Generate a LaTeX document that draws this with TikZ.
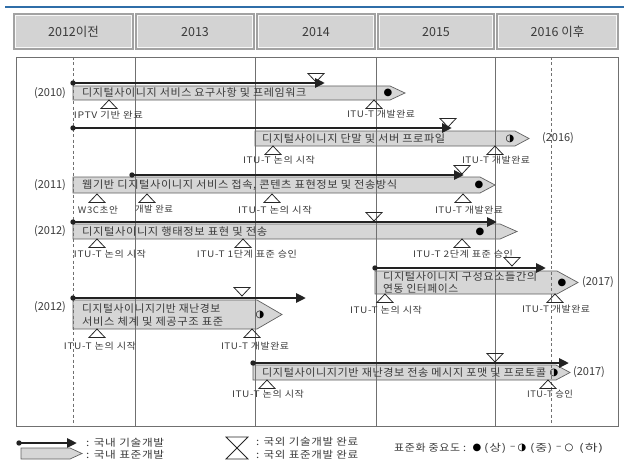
\documentclass[tikz,border=0pt]{standalone}
\usepackage{graphicx}
\usepackage{fontspec}
\setmainfont{Noto Sans CJK KR}
\newfontfamily\sym{DejaVu Sans}
\newfontfamily\krbox[LetterSpace=5]{Noto Sans CJK KR}
\newfontfamily\krlbl[LetterSpace=6]{Noto Sans CJK KR}
\newcommand\fitw[2]{\resizebox{#1pt}{\height}{#2}}
\usetikzlibrary{arrows.meta}
\definecolor{boxgray}{HTML}{D6D6D6}
\definecolor{hdrgray}{HTML}{D3D3D3}
\definecolor{hdrline}{HTML}{A2A2A2}
\definecolor{txt}{HTML}{3A3A3A}
\definecolor{arr}{HTML}{222222}
\definecolor{blueline}{HTML}{2F6EA8}
\definecolor{gridline}{HTML}{707070}
\newcommand\stdpent[5]{\path[stdboxsty] (#1,#2) -- (#3,#2) -- (#4,{(#2+#5)/2}) -- (#3,#5) -- (#1,#5) -- cycle;}
\newcommand\hdrbox[4]{\draw[hdr] (#1,#2) rectangle (#3,#4); \draw[hdrin] ({#1+1.6},{#2+1.6}) rectangle ({#3-1.6},{#4-1.6});}
\tikzset{
  hdr/.style={draw=hdrline, fill=hdrgray, line width=1.3pt},
  hdrin/.style={draw=white!85!hdrgray, line width=0.5pt},
  hdrtxt/.style={font=\fontsize{12.5}{14}\selectfont, text=txt},
  stdboxsty/.style={draw=gray!75!black, fill=boxgray, line width=0.7pt},
  devarrow/.style={draw=arr, line width=2.6pt, -{Triangle[length=10pt,width=9pt]}},
  devdot/.style={fill=arr},
  mk/.style={draw=black!85, line width=0.8pt},
  dtri/.pic={\draw[mk] (-8,-8.5) -- (8,-8.5) -- (0,0) -- cycle;},
  utri/.pic={\draw[mk] (-8,8.5) -- (8,8.5) -- (0,0) -- cycle;},
  bigdtri/.pic={\draw[mk] (-11,-11) -- (11,-11) -- (0,0) -- cycle;},
  bigutri/.pic={\draw[mk] (-11,11) -- (11,11) -- (0,0) -- cycle;},
  btxt/.style={font=\krbox\fontsize{10.5}{12.5}\selectfont, text=txt, inner sep=0pt, anchor=west},
  lbl/.style={font=\krlbl\fontsize{9}{11}\selectfont, text=txt, inner sep=0pt},
  lgd/.style={font=\krlbl\fontsize{10}{12}\selectfont, text=txt, inner sep=0pt, anchor=west},
  yr/.style={font=\fontsize{11}{12}\selectfont, text=txt, inner sep=0pt},
  symb/.style={font=\sym\fontsize{10}{12}\selectfont, text=black, inner sep=0pt},
  vline/.style={draw=gridline, line width=0.6pt},
  dline/.style={draw=gridline, line width=0.6pt, dash pattern=on 3pt off 2.5pt},
}
\begin{document}
\begin{tikzpicture}[x=1pt,y=-1pt]
\useasboundingbox (0,0) rectangle (624,460);
% top rule
\draw[blueline, line width=1.8pt] (5,7) -- (624,7);
% header
\hdrbox{14}{14}{133}{49}
\hdrbox{136}{14}{254}{49}
\hdrbox{257}{14}{375}{49}
\hdrbox{378}{14}{494}{49}
\hdrbox{497}{14}{618}{49}
\node[hdrtxt] (h1) at (73.5,32) {2012이전};
\node[hdrtxt] (h2) at (195,32) {2013};
\node[hdrtxt] (h3) at (316,32) {2014};
\node[hdrtxt] (h4) at (436,32) {2015};
\node[hdrtxt] (h5) at (557.5,32) {2016 이후};
% frame
\draw[draw=gridline, line width=0.8pt] (16,57) rectangle (618,426);
% standard boxes
\stdpent{73}{86}{390}{405}{100}
\stdpent{255}{131}{515}{529}{146}
\stdpent{73}{177}{480}{495}{193}
\stdpent{73}{224}{500}{517}{239}
\stdpent{375}{271}{557}{578}{294}
\stdpent{73}{300}{257}{282}{329}
\stdpent{253}{365}{556}{570}{380}
% grid lines
\foreach \x in {135,255,376,495} \draw[vline] (\x,57) -- (\x,426);
\foreach \x in {73,551} \draw[dline] (\x,57) -- (\x,426);
% development arrows
\coordinate (a1s) at (73,83);  \coordinate (a1e) at (325,83);
\coordinate (a2s) at (73,128); \coordinate (a2e) at (452,128);
\coordinate (a3s) at (132,175); \coordinate (a3e) at (464,175);
\coordinate (a4s) at (73,222); \coordinate (a4e) at (497,222);
\coordinate (a5s) at (375,268); \coordinate (a5e) at (546,268);
\coordinate (a6s) at (73,298); \coordinate (a6e) at (306,298);
\coordinate (a7s) at (253,363); \coordinate (a7e) at (569,363);
\foreach \i in {1,...,7} {
  \draw[devarrow] (a\i s) -- (a\i e);
  \fill[devdot] (a\i s) circle (2.7pt);
}
% overseas tech-dev complete (down triangles)
\pic at (316,82) {dtri};
\pic at (448,127) {dtri};
\pic at (462,174) {dtri};
\pic at (374,221) {dtri};
\pic at (512,266) {dtri};
\pic at (242,296) {dtri};
\pic at (495,362) {dtri};
% overseas standard complete (up triangles)
\pic at (109,100) {utri};
\pic at (374,100) {utri};
\pic at (273,146) {utri};
\pic at (495,146) {utri};
\pic at (97,194) {utri};
\pic at (147,194) {utri};
\pic at (272,194) {utri};
\pic at (463,194) {utri};
\pic at (97,239) {utri};
\pic at (243,239) {utri};
\pic at (462,239) {utri};
\pic at (385,294) {utri};
\pic at (555,294) {utri};
\pic at (97,329) {utri};
\pic at (252,329) {utri};
\pic at (267,380) {utri};
\pic at (548,380) {utri};
% box texts
\node[btxt] (t1) at (82,93) {\fitw{224}{디지털사이니지 서비스 요구사항 및 프레임워크}};
\node[btxt] (t2) at (262,138.5) {\fitw{183}{디지털사이니지 단말 및 서버 프로파일}};
\node[btxt] (t3) at (82,185) {\fitw{315}{웹기반 디지털사이니지 서비스 접속, 콘텐츠 표현정보 및 전송방식}};
\node[btxt] (t4) at (82,231.5) {\fitw{185}{디지털사이니지 행태정보 표현 및 전송}};
\node[btxt] (t5a) at (383,277) {\fitw{154}{디지털사이니지 구성요소들간의}};
\node[btxt] (t5b) at (383,289) {\fitw{75}{연동 인터페이스}};
\node[btxt] (t6a) at (82,309) {\fitw{138}{디지털사이니지기반 재난경보}};
\node[btxt] (t6b) at (82,322) {\fitw{141}{서비스 체계 및 제공구조 표준}};
\node[btxt] (t7) at (262,372.5) {\fitw{284}{디지털사이니지기반 재난경보 전송 메시지 포맷 및 프로토콜}};
% importance symbols
\node[symb] (s1) at (388,93) {●};
\node[symb] (s2) at (510,138.5) {◑};
\node[symb] (s3) at (479,185) {●};
\node[symb] (s4) at (480,231.5) {●};
\node[symb] (s5) at (562,282.5) {●};
\node[symb] (s6) at (260,315) {◑};
\node[symb] (s7) at (554,372.5) {◑};
% years
\node[yr] (y1) at (50,93) {(2010)};
\node[yr] (y2) at (558,138.5) {(2016)};
\node[yr] (y3) at (50,185) {(2011)};
\node[yr] (y4) at (50,231.5) {(2012)};
\node[yr] (y5) at (598,282.5) {(2017)};
\node[yr] (y6) at (50,307) {(2012)};
\node[yr] (y7) at (589,372.5) {(2017)};
% milestone labels
\node[lbl] (l1a) at (108.5,115) {\fitw{69}{IPTV 기반 완료}};
\node[lbl] (l1b) at (381,114) {\fitw{68}{ITU-T 개발완료}};
\node[lbl] (l2a) at (279,160) {\fitw{72}{ITU-T 논의 시작}};
\node[lbl] (l2b) at (496,160) {\fitw{68}{ITU-T 개발완료}};
\node[lbl] (l3a) at (98,210) {\fitw{40}{W3C초안}};
\node[lbl] (l3b) at (154,209) {\fitw{38}{개발 완료}};
\node[lbl] (l3c) at (275,210) {\fitw{74}{ITU-T 논의 시작}};
\node[lbl] (l3d) at (469,210) {\fitw{68}{ITU-T 개발완료}};
\node[lbl] (l4a) at (110,254) {\fitw{72}{ITU-T 논의 시작}};
\node[lbl] (l4b) at (247,254) {\fitw{100}{ITU-T 1단계 표준 승인}};
\node[lbl] (l4c) at (463,254) {\fitw{100}{ITU-T 2단계 표준 승인}};
\node[lbl] (l5a) at (386,310) {\fitw{72}{ITU-T 논의 시작}};
\node[lbl] (l5b) at (556,309) {\fitw{68}{ITU-T 개발완료}};
\node[lbl] (l6a) at (100,346) {\fitw{72}{ITU-T 논의 시작}};
\node[lbl] (l6b) at (255,346) {\fitw{68}{ITU-T 개발완료}};
\node[lbl] (l7a) at (268,394) {\fitw{72}{ITU-T 논의 시작}};
\node[lbl] (l7b) at (550,394) {\fitw{46}{ITU-T 승인}};
% legend
\coordinate (lgs) at (19,443); \coordinate (lge) at (77,443);
\draw[devarrow] (lgs) -- (lge);
\fill[devdot] (lgs) circle (2.7pt);
\stdpent{21}{448}{70}{82}{459}
\node[lgd] (lg1) at (86,443) {\fitw{78}{: 국내 기술개발}};
\node[lgd] (lg2) at (86,455) {\fitw{78}{: 국내 표준개발}};
\pic at (237,448) {bigdtri};
\pic at (237,448) {bigutri};
\node[lgd] (lg3) at (256,442) {\fitw{102}{: 국외 기술개발 완료}};
\node[lgd] (lg4) at (256,455) {\fitw{102}{: 국외 표준개발 완료}};
\node[lgd] (lg5) at (394,448) {\fitw{72}{표준화 중요도 :}};
\node[symb] (lgs1) at (477,448) {●};
\node[lgd] (lg6) at (484,448) {\fitw{22}{(상)}};
\node[lgd] (lg7) at (510,448) {–};
\node[symb] (lgs2) at (522,448) {◑};
\node[lgd] (lg8) at (530,448) {\fitw{22}{(중)}};
\node[lgd] (lg9) at (556,448) {–};
\node[symb] (lgs3) at (569,448) {○};
\node[lgd] (lg10) at (579,448) {\fitw{24}{(하)}};
\end{tikzpicture}
\end{document}
